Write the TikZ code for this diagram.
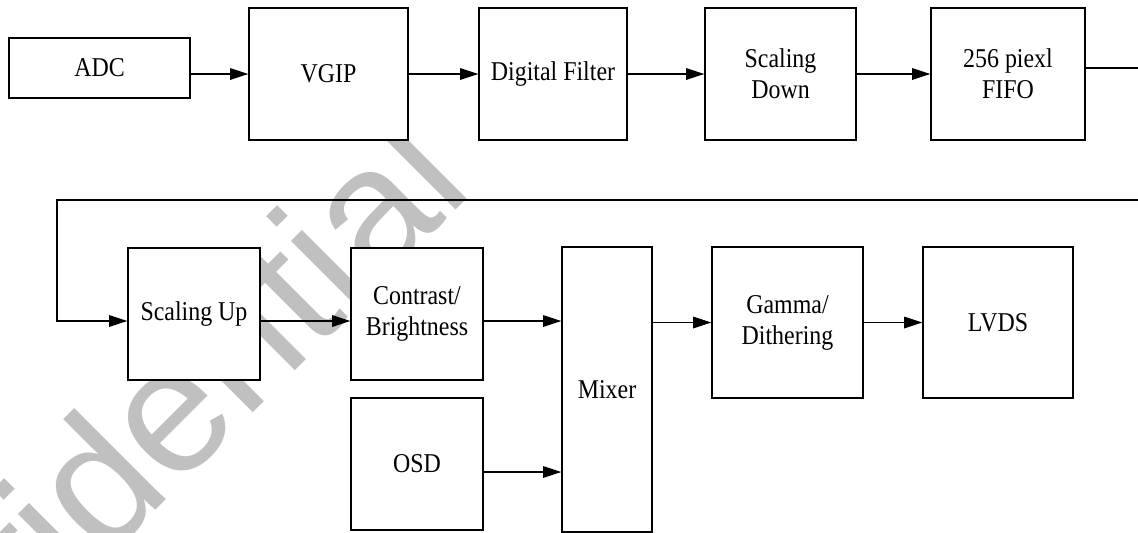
\documentclass[tikz,border=0pt]{standalone}
\usepackage{fontspec}
\setmainfont[FakeStretch=0.88]{Liberation Serif}
\newfontfamily\wmfont{Liberation Sans}
\usetikzlibrary{arrows.meta}
\definecolor{wmgray}{RGB}{192,192,192}
\tikzset{
  block/.style={draw, fill=white, line width=0.8pt, inner sep=0pt, align=center,
    font=\fontsize{16.3}{18.6}\selectfont},
  arr/.style={line width=0.7pt, -{Triangle[length=11pt,width=7pt]}},
  wire/.style={line width=0.7pt}
}

\begin{document}
\begin{tikzpicture}[x=0.6pt, y=-0.6pt]
  \useasboundingbox (0,0) rectangle (1138,533);
  % watermark behind the blocks
  \begin{scope}
    \clip (0,0) rectangle (1138,533);
    \node[rotate=45, anchor=base east, text=wmgray, inner sep=0pt,
      font=\wmfont\fontsize{107}{107}\selectfont] (mark) at (476,190) {Confidential};
  \end{scope}

  % first row
  \node[block, minimum width=108.6pt, minimum height=36pt] (adc) at (99.5,68) {ADC};
  \node[block, minimum width=95.4pt, minimum height=79.2pt] (vgip) at (328.5,74) {VGIP};
  \node[block, minimum width=88.8pt, minimum height=79.2pt] (filter) at (553,74) {Digital Filter};
  \node[block, minimum width=90.6pt, minimum height=79.2pt] (sdown) at (780.5,74) {Scaling\\Down};
  \node[block, minimum width=92.4pt, minimum height=79.2pt] (fifo) at (1008,74) {256 piexl\\FIFO};

  % second row
  \node[block, minimum width=79.2pt, minimum height=79.2pt] (sup) at (194,314) {Scaling Up};
  \node[block, minimum width=79.2pt, minimum height=79.2pt] (contrast) at (417,314) {Contrast/\\Brightness};
  \node[block, minimum width=79.2pt, minimum height=79.2pt] (osd) at (417,464) {OSD};
  \node[block, minimum width=54pt, minimum height=171pt] (mixer) at (607,389.5) {Mixer};
  \node[block, minimum width=90.6pt, minimum height=90.6pt] (gamma) at (787.5,322.5) {Gamma/\\Dithering};
  \node[block, minimum width=90pt, minimum height=90.6pt] (lvds) at (998,322.5) {LVDS};

  \coordinate (fifoout) at (1138,68);
  \coordinate (loopR) at (1138,200);
  \coordinate (loopL) at (57,200);
  \coordinate (r2) at (0,321);
  \coordinate (r3) at (0,472);

  \draw[arr] (adc.east |- vgip.west) -- (vgip.west);
  \draw[arr] (vgip) -- (filter);
  \draw[arr] (filter) -- (sdown);
  \draw[arr] (sdown) -- (fifo);
  \draw[wire] (fifo.east |- fifoout) -- (fifoout);
  \draw[arr] (loopR) -- (loopL) |- (sup.west |- r2);
  \draw[arr] (sup.east |- r2) -- (contrast.west |- r2);
  \draw[arr] (contrast.east |- r2) -- (mixer.west |- r2);
  \draw[arr] (osd.east |- r3) -- (mixer.west |- r3);
  \draw[arr] (mixer.east |- gamma.west) -- (gamma.west);
  \draw[arr] (gamma) -- (lvds);
\end{tikzpicture}
\end{document}
